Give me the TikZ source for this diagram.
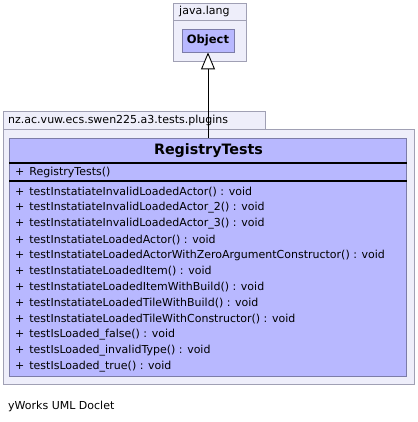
\documentclass[tikz,border=0pt]{standalone}
\usepackage{fontspec}
\setmainfont{DejaVu Sans}
\usetikzlibrary{arrows.meta}
\pgfdeclarelayer{nodelayer}
\pgfdeclarelayer{edgelayer}
\pgfsetlayers{nodelayer,edgelayer,main}
\definecolor{pkgfill}{HTML}{EEEEFA}
\definecolor{pkgline}{HTML}{A0A0B4}
\definecolor{clsfill}{HTML}{B8B8FF}
\definecolor{clsline}{HTML}{7C7CA8}
\tikzset{font=\fontsize{11}{13}\selectfont}
\tikzstyle{none}=[inner sep=0pt]
\tikzstyle{pkg}=[draw=pkgline,fill=pkgfill,inner sep=0pt,line width=0.8pt]
\tikzstyle{cls}=[draw=clsline,fill=clsfill,inner sep=0pt,line width=0.8pt]
\tikzstyle{member}=[anchor=west,inner sep=0pt]
\tikzstyle{sep}=[line width=1.3pt]
\newcommand{\vis}{+\hspace{5pt}}

\begin{document}
\begin{tikzpicture}[x=1pt,y=-1pt]
	\useasboundingbox (0,0) rectangle (417,422);
	\begin{pgfonlayer}{nodelayer}
		% packages
		\node [style=pkg, minimum width=73pt, minimum height=17pt] (langtab) at (209.5, 11.5) {};
		\node [style=pkg, minimum width=73pt, minimum height=41pt] (langbody) at (209.5, 40.5) {};
		\node [style=pkg, minimum width=262pt, minimum height=18pt] (pkgtab) at (134, 120) {};
		\node [style=pkg, minimum width=411pt, minimum height=255pt] (pkgbody) at (208.5, 256.5) {};
	\end{pgfonlayer}
	\node [style=none, anchor=west] (langname) at (179, 11.5) {java.lang};
	\node [style=cls, minimum width=52pt, minimum height=23pt, font=\fontsize{11.5}{13}\selectfont\bfseries] (obj) at (208, 40.5) {Object};
	\node [style=none, anchor=west] (pkgname) at (8, 120) {nz.ac.vuw.ecs.swen225.a3.tests.plugins};
	\node [style=cls, minimum width=397pt, minimum height=238pt] (cls) at (208, 257) {};
	\begin{pgfonlayer}{edgelayer}
		\draw [-{Triangle[open, fill=white, length=17pt, width=14pt]}, line width=0.9pt] (cls.north) -- (obj.south);
	\end{pgfonlayer}
	\draw[style=sep] (cls.west |- 0, 163) -- (cls.east |- 0, 163);
	\draw[style=sep] (cls.west |- 0, 181) -- (cls.east |- 0, 181);
	\node [style=none, font=\fontsize{14.3}{16}\selectfont\bfseries] (title) at (208.5, 150.5) {RegistryTests};
	\node [style=member] (ctor) at (15, 172) {\vis RegistryTests()};
	\foreach \m [count=\i from 0] in {testInstatiateInvalidLoadedActor, testInstatiateInvalidLoadedActor\_2,
		testInstatiateInvalidLoadedActor\_3, testInstatiateLoadedActor,
		testInstatiateLoadedActorWithZeroArgumentConstructor, testInstatiateLoadedItem,
		testInstatiateLoadedItemWithBuild, testInstatiateLoadedTileWithBuild,
		testInstatiateLoadedTileWithConstructor, testIsLoaded\_false,
		testIsLoaded\_invalidType, testIsLoaded\_true}
		\node [style=member] (m\i) at (15, 192+15.9*\i) {\vis \m() : void};
	\node [style=none, anchor=west] (footer) at (8, 406) {yWorks UML Doclet};
\end{tikzpicture}
\end{document}
